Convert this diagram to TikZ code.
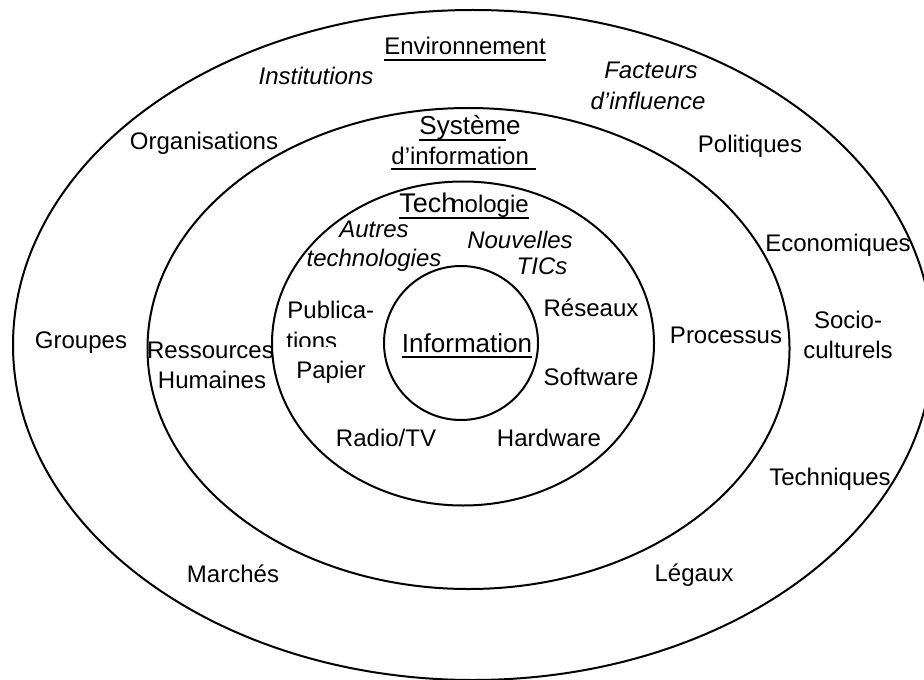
\documentclass[tikz,border=0pt]{standalone}
\usepackage{fontspec}
\setmainfont{Liberation Sans}
\usetikzlibrary{shapes.geometric}

\newsavebox{\undlbox}
\newcommand{\undl}[1]{\sbox{\undlbox}{#1}\rlap{\usebox{\undlbox}}\rule[-2.8pt]{\wd\undlbox}{0.9pt}}

\tikzset{
  ring/.style={ellipse, draw, line width=1pt, inner sep=0pt},
  lbl/.style={font=\fontsize{12}{14}\selectfont, inner sep=0pt, anchor=base},
  itlbl/.style={lbl, font=\fontsize{12}{14}\selectfont\itshape},
  biglbl/.style={lbl, font=\fontsize{13}{15}\selectfont},
}

\begin{document}
\begin{tikzpicture}[x=0.5pt, y=-0.5pt]
  \useasboundingbox (0,0) rectangle (924,679);
  \clip (0,0) rectangle (924,679);

  % rings
  \node[ring, minimum width=460pt, minimum height=335pt] (envring) at (473,345) {};
  \node[ring, minimum width=321pt, minimum height=240.5pt] (sysring) at (468.5,348.5) {};
  \node[ring, minimum width=191pt, minimum height=162pt] (techring) at (463,343.5) {};
  \node[ring, circle, minimum size=77pt] (inforing) at (461,343) {};

  % environnement
  \node[lbl] (env) at (465,55) {\undl{Environnement}};
  \node[itlbl] (inst) at (316,85) {Institutions};
  \node[itlbl] (fact) at (651,79) {Facteurs};
  \node[itlbl] (infl) at (648,110) {d’influence};
  \node[lbl] (orga) at (204,150) {Organisations};
  \node[lbl] (poli) at (750,153) {Politiques};
  \node[lbl] (eco) at (838,251) {Economiques};
  \node[lbl] (grp) at (81,348) {Groupes};
  \node[lbl] (socio) at (848,328) {Socio-};
  \node[lbl] (cult) at (848,358) {culturels};
  \node[lbl] (techn) at (830,485) {Techniques};
  \node[lbl] (march) at (233,582) {Marchés};
  \node[lbl] (leg) at (694,581) {Légaux};

  % systeme d'information
  \node[biglbl] (sys) at (470,135) {\undl{Systèm}e};
  \node[lbl] (sysinfo) at (463.5,164) {\undl{d’information\ }};
  \node[lbl] (ress) at (210.5,358) {Ressources};
  \node[lbl] (hum) at (212,388) {Humaines};
  \node[lbl] (proc) at (726,343) {Processus};

  % technologie
  \node[lbl] (tech) at (464,213) {\undl{{\fontsize{13.5}{15}\selectfont Tech}\kern-2.5pt nologie}};
  \node[itlbl] (autres) at (374,237) {Autres};
  \node[itlbl] (autrestech) at (374,266) {technologies};
  \node[itlbl] (nouv) at (520,248) {Nouvelles};
  \node[itlbl] (tics) at (542,274) {TICs};
  \node[lbl, anchor=base west] (pub) at (287,318) {Publica-};
  \begin{scope}
    \clip (280,320) rectangle (340,346);
    \node[lbl, anchor=base west] (pubtions) at (286,349) {tions};
  \end{scope}
  \node[lbl] (papier) at (331,378) {Papier};
  \node[lbl] (res) at (591,316) {Réseaux};
  \node[lbl] (soft) at (591,385) {Software};
  \node[lbl] (radio) at (386,446) {Radio/TV};
  \node[lbl] (hard) at (549,446) {Hardware};

  % information
  \node[biglbl] (info) at (467,352) {\undl{Information}};
\end{tikzpicture}
\end{document}
